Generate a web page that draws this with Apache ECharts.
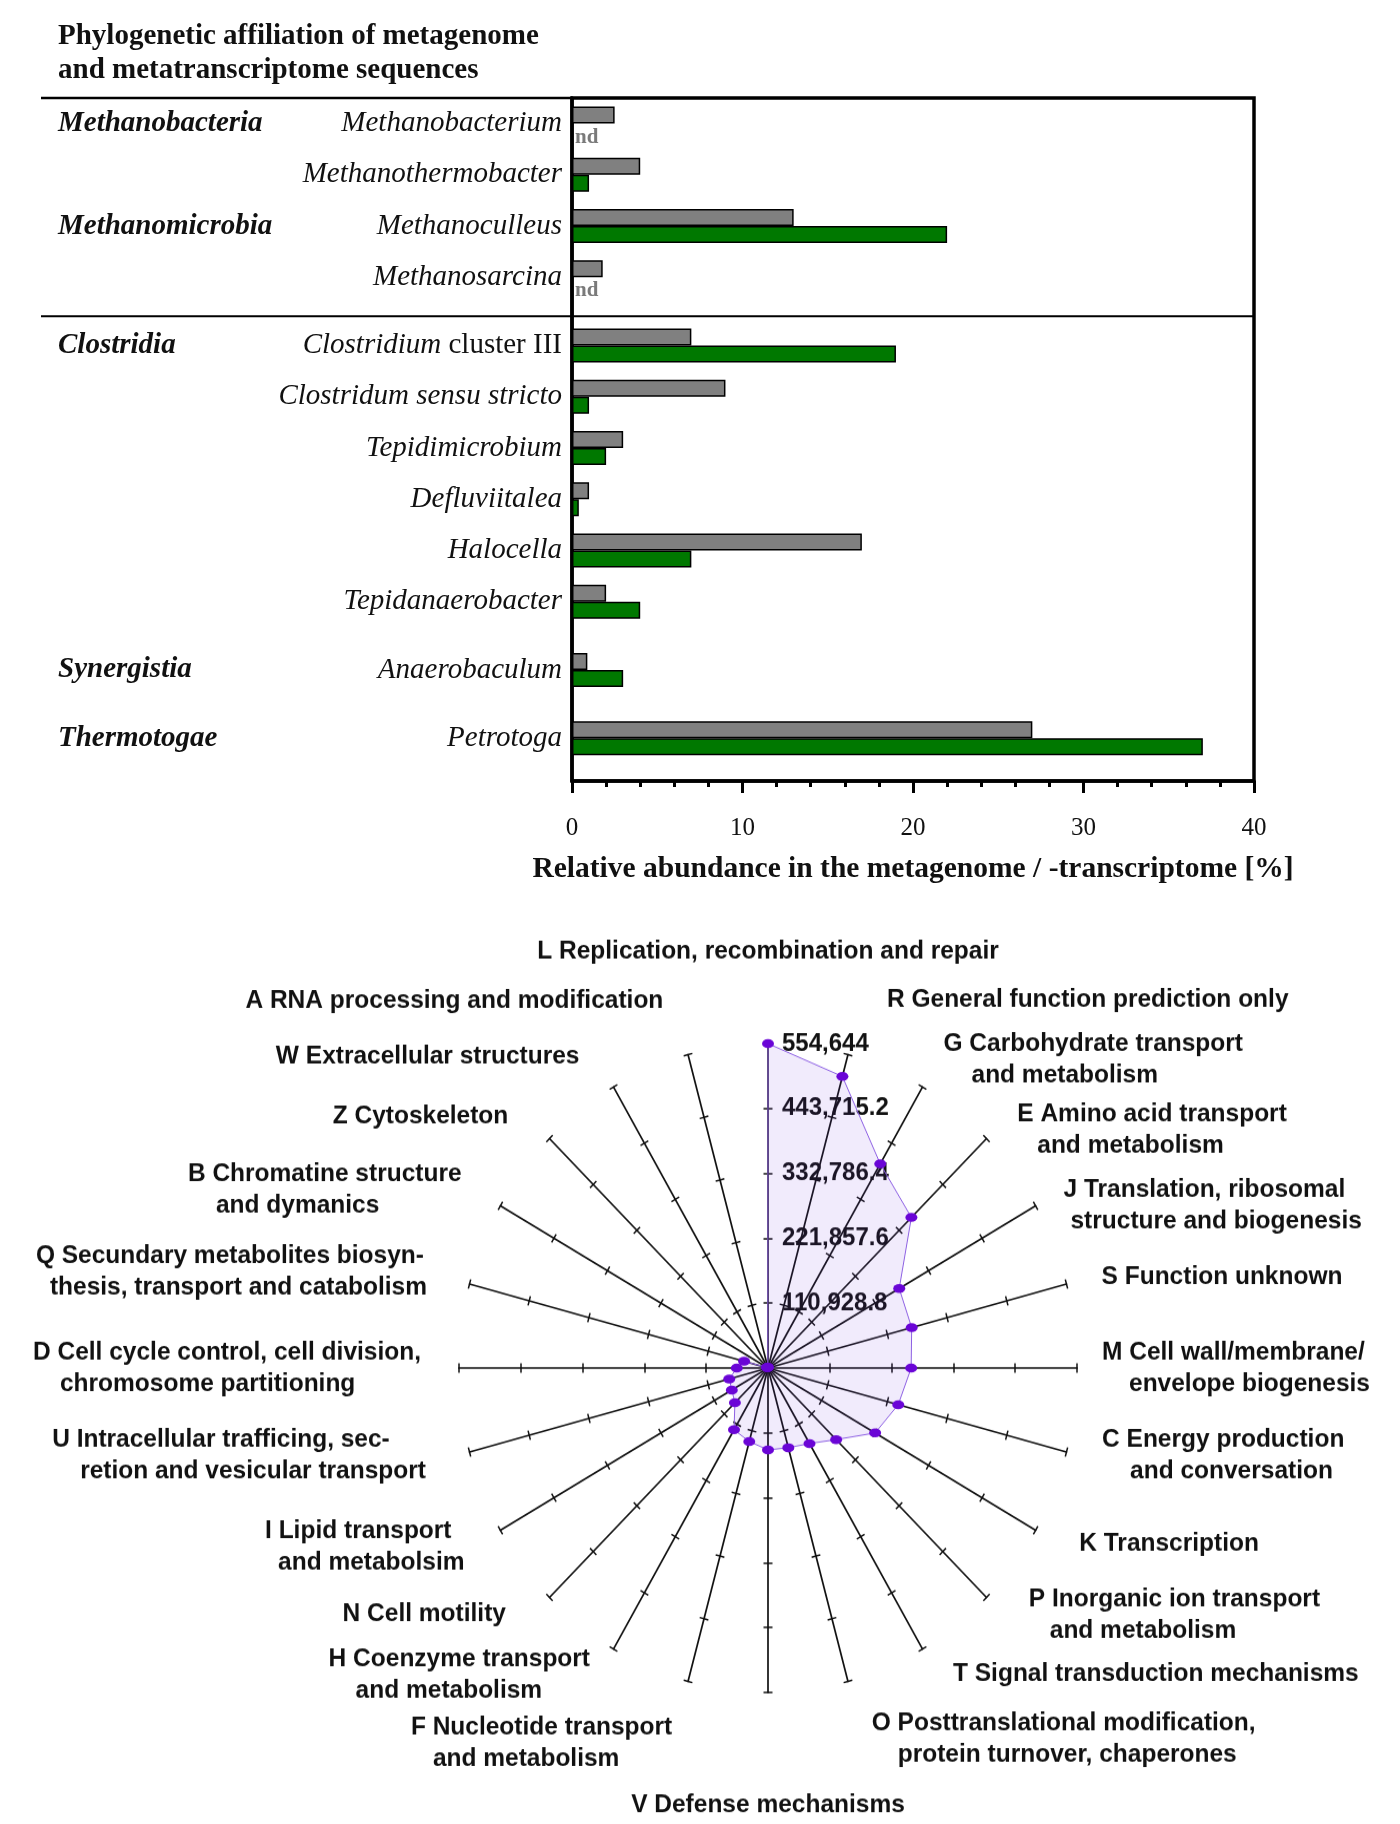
<!DOCTYPE html>
<html>
<head>
<meta charset="utf-8">
<title>Metagenome and metatranscriptome</title>
<script src="https://cdn.jsdelivr.net/npm/echarts@6/dist/echarts.min.js"></script>
<style>
  html, body { margin: 0; padding: 0; background: #fff; }
  body { width: 1400px; height: 1824px; position: relative; overflow: hidden; }
  #bars { position: absolute; left: 0; top: 0; width: 1400px; height: 900px; }
  #cog { position: absolute; left: 0; top: 880px; width: 1400px; height: 944px;
         transform-origin: 768px 488px; transform: scaleY(1.05); }
</style>
</head>
<body>
<div id="bars"></div>
<div id="cog"></div>
<script>
// ---------- Phylogenetic affiliation: relative abundance [%] ----------
const genera = [
  'Methanobacterium', 'Methanothermobacter', 'Methanoculleus', 'Methanosarcina',
  'Clostridium cluster III', 'Clostridum sensu stricto', 'Tepidimicrobium', 'Defluviitalea',
  'Halocella', 'Tepidanaerobacter', 'Anaerobaculum', 'Petrotoga'
];
const classes = [
  'Methanobacteria', '', 'Methanomicrobia', '',
  'Clostridia', '', '', '',
  '', '', 'Synergistia', 'Thermotogae'
];
const metagenome        = [2.5, 4.0, 13.0, 1.8, 7.0, 9.0, 3.0, 1.0, 17.0, 2.0, 0.9, 27.0];
const metatranscriptome = [null, 1.0, 22.0, null, 19.0, 1.0, 2.0, 0.4, 7.0, 4.0, 3.0, 37.0]; // null = not detected

// Category axis rows, top to bottom; empty entries are spacer rows.
const axisRows = [
  '', 'Methanobacterium', '', '', 'Methanothermobacter', '', '', 'Methanoculleus', '', '',
  'Methanosarcina', '', '', '', 'Clostridium cluster III', '', '', 'Clostridum sensu stricto', '', '',
  'Tepidimicrobium', '', '', 'Defluviitalea', '', '', 'Halocella', '', '', 'Tepidanaerobacter',
  '', '', '', 'Anaerobaculum', '', '', '', 'Petrotoga', '', ''
];
const xMin = 0, xMax = 40, xStep = 10;

// ---------- COG functional categories: sequence counts (clockwise from top) ----------
const cogCategories = [
  'L Replication, recombination and repair',
  'R General function prediction only',
  'G Carbohydrate transport\nand metabolism',
  'E Amino acid transport\nand metabolism',
  'J Translation, ribosomal\nstructure and biogenesis',
  'S Function unknown',
  'M Cell wall/membrane/\nenvelope biogenesis',
  'C Energy production\nand conversation',
  'K Transcription',
  'P Inorganic ion transport\nand metabolism',
  'T Signal transduction mechanisms',
  'O Posttranslational modification,\nprotein turnover, chaperones',
  'V Defense mechanisms',
  'F Nucleotide transport\nand metabolism',
  'H Coenzyme transport\nand metabolism',
  'N Cell motility',
  'I Lipid transport\nand metabolsim',
  'U Intracellular trafficing, sec-\nretion and vesicular transport',
  'D Cell cycle control, cell division,\nchromosome partitioning',
  'Q Secundary metabolites biosyn-\nthesis, transport and catabolism',
  'B Chromatine structure\nand dymanics',
  'Z Cytoskeleton',
  'W Extracellular structures',
  'A RNA processing and modification'
];
const cogCounts = [
  554644, 516000, 403000, 364000, 272000, 267000, 257000, 242000, 222000, 173000, 149000, 141000,
  140000, 130000, 122000, 84000, 75000, 72000, 56000, 44500, 2000, 1500, 1000, 1500
];
const cogAxisMax = 554644;
const cogSplits = 5;

// Placement of the category names around the spokes: [gap, left pad, right pad, second-line indent]
const cogNameLayout = [
  [73, 0, 0, 0], [54, 25, 0, 0], [30, 6, 0, 28], [11, 23, 0, 20], [1, 27, 0, 7], [27, 9, 0, 0],
  [25, 0, 0, 27], [12, 24, 0, 28], [25, 22, 0, 0], [23, 26, 0, 21], [27, 17, 0, 0], [57, 9, 0, 26],
  [92, 0, 0, 0], [61, 0, 0, 22], [29, 0, 9, 27], [22, 0, 28, 0], [31, 0, 9, 13], [12, 0, 32, 28],
  [38, 0, 0, 27], [44, 0, 0, 14], [31, 0, 12, 28], [30, 0, 20, 0], [34, 0, 17, 0], [53, 0, 11, 0]
];

const SERIF = '"Liberation Serif", "Times New Roman", Times, serif';
const SANS = '"Liberation Sans", Arial, Helvetica, sans-serif';
const INK = '#111';

// ================= Horizontal bar chart =================
const GRID = { left: 572, top: 98, width: 682, height: 683 };
const slotKeys = axisRows.map((n, i) => n || ('spacer' + i));
const rowOf = key => genera.indexOf(key);

const grayData = slotKeys.map(k => {
  const r = rowOf(k);
  return r < 0 ? null : metagenome[r];
});
const greenData = slotKeys.map(k => {
  const r = rowOf(k);
  if (r < 0) return null;
  const v = metatranscriptome[r];
  if (v === null) {
    return {
      value: 0,
      itemStyle: { borderWidth: 0 },
      label: {
        show: true, position: 'right', distance: 3, offset: [0, 5], formatter: 'nd',
        fontFamily: SERIF, fontWeight: 'bold', fontSize: 21, color: '#7a7a7a'
      }
    };
  }
  return v;
});

function genusLabel(key) {
  const r = rowOf(key);
  if (r < 0) return '';
  const name = genera[r];
  const m = name.match(/^(\S+)( cluster .+)$/);
  return m ? '{it|' + m[1] + '}{rm|' + m[2] + '}' : '{it|' + name + '}';
}

const barChart = echarts.init(document.getElementById('bars'), null, { renderer: 'canvas' });
barChart.setOption({
  animation: false,
  backgroundColor: 'transparent',
  title: {
    text: 'Phylogenetic affiliation of metagenome\nand metatranscriptome sequences',
    left: 58, top: 20, padding: 0,
    textStyle: { fontFamily: SERIF, fontWeight: 'bold', fontSize: 29, lineHeight: 34, color: INK }
  },
  grid: {
    left: GRID.left, top: GRID.top, width: GRID.width, height: GRID.height,
    show: true, borderColor: '#000', borderWidth: 3.5, backgroundColor: 'transparent',
    outerBoundsMode: 'none'
  },
  xAxis: {
    type: 'value', min: xMin, max: xMax, interval: xStep, position: 'bottom',
    axisLine: { show: true, onZero: false, lineStyle: { color: '#000', width: 3.5 } },
    axisTick: { show: true, length: 12, lineStyle: { color: '#000', width: 3 } },
    minorTick: { show: true, splitNumber: 5, length: 6, lineStyle: { color: '#000', width: 3 } },
    axisLabel: { margin: 35, fontFamily: SERIF, fontSize: 25, color: INK },
    splitLine: { show: false },
    name: 'Relative abundance in the metagenome / -transcriptome [%]',
    nameLocation: 'middle', nameGap: 73,
    nameTextStyle: { fontFamily: SERIF, fontWeight: 'bold', fontSize: 29.5, color: INK }
  },
  yAxis: [
    {
      type: 'category', data: slotKeys, inverse: true, position: 'left', offset: 0,
      axisLine: { show: true, lineStyle: { color: '#000', width: 3.5 } },
      axisTick: { show: false },
      splitLine: { show: false },
      axisLabel: {
        interval: 0, margin: 10, formatter: genusLabel,
        rich: {
          it: { fontFamily: SERIF, fontStyle: 'italic', fontSize: 29, color: INK },
          rm: { fontFamily: SERIF, fontSize: 29, color: INK }
        }
      }
    },
    {
      type: 'category', data: slotKeys, inverse: true, position: 'left', offset: 0,
      axisLine: { show: false }, axisTick: { show: false }, splitLine: { show: false },
      axisLabel: {
        interval: 0, margin: GRID.left - 58, align: 'left',
        fontFamily: SERIF, fontStyle: 'italic', fontWeight: 'bold', fontSize: 29, color: INK,
        formatter: key => { const r = rowOf(key); return r < 0 ? '' : classes[r]; }
      }
    }
  ],
  series: [
    {
      type: 'bar', name: 'Metagenome', yAxisIndex: 0, data: grayData,
      barWidth: 17, barGap: '0%',
      itemStyle: { color: '#808080', borderColor: '#000', borderWidth: 1.5 }
    },
    {
      type: 'bar', name: 'Metatranscriptome', yAxisIndex: 0, data: greenData,
      barWidth: 17, barGap: '0%',
      itemStyle: { color: '#007800', borderColor: '#000', borderWidth: 1.5 }
    }
  ]
});

// Rule lines that run from the label column into the plot
const yArchaeaEnd = barChart.convertToPixel({ yAxisIndex: 0 }, 'Methanosarcina');
const yBacteriaStart = barChart.convertToPixel({ yAxisIndex: 0 }, 'Clostridium cluster III');
const sepY = yArchaeaEnd + (yBacteriaStart - yArchaeaEnd) * 0.57;
const xEnd = barChart.convertToPixel({ xAxisIndex: 0 }, xMax);
barChart.setOption({
  graphic: [
    { type: 'line', shape: { x1: 41, y1: GRID.top, x2: GRID.left, y2: GRID.top },
      style: { stroke: '#000', lineWidth: 2.5 }, z: 10 },
    { type: 'line', shape: { x1: 41, y1: sepY, x2: xEnd, y2: sepY },
      style: { stroke: '#000', lineWidth: 2 }, z: 10 }
  ]
});

// ================= COG radar =================
// ECharts lays indicators out counter-clockwise from the top: keep L first, reverse the rest.
const ccw = [0].concat(cogCategories.map((_, i) => i).slice(1).reverse());

const NAME_FONT = { fontFamily: SANS, fontWeight: 'bold', fontSize: 24.5, lineHeight: 30, color: INK, align: 'left' };
const nameRich = { t: Object.assign({}, NAME_FONT) };
cogNameLayout.forEach(l => {
  nameRich['i' + l[3]] = Object.assign({}, NAME_FONT, { padding: [0, 0, 0, l[3]] });
});

function makeIndicators(withLayout) {
  return ccw.map(k => {
    const ind = { name: cogCategories[k], min: 0, max: cogAxisMax };
    if (withLayout) {
      const l = cogNameLayout[k];
      ind.nameGap = l[0];
      ind.nameTextStyle = { padding: [0, l[2], 0, l[1]] };
      if (k === 0) ind.axisLabel = { show: true, margin: -14, align: 'left' };
    }
    return ind;
  });
}

const radarBase = {
  center: [768, 488], radius: 309, startAngle: 90, splitNumber: cogSplits, shape: 'polygon',
  splitLine: { show: false }, splitArea: { show: false }
};

const cogChart = echarts.init(document.getElementById('cog'), null, { renderer: 'canvas' });
cogChart.setOption({
  animation: false,
  backgroundColor: 'transparent',
  radar: [
    Object.assign({}, radarBase, {
      indicator: makeIndicators(true),
      axisName: {
        show: true, color: INK, fontFamily: SANS, fontWeight: 'bold', fontSize: 24.5,
        formatter: name => {
          const k = cogCategories.indexOf(name);
          const indent = cogNameLayout[k][3];
          return name.split('\n')
            .map((line, i) => (i === 0 ? '{t|' : '{i' + indent + '|') + line + '}')
            .join('\n');
        },
        rich: nameRich
      },
      axisLine: { show: true, lineStyle: { color: INK, width: 1.7 } },
      axisTick: { show: true, length: 4.5, lineStyle: { color: INK, width: 1.5 } },
      axisLabel: {
        show: false, showMinLabel: false, margin: 14,
        fontFamily: SANS, fontWeight: 'bold', fontSize: 24, color: INK
      }
    }),
    Object.assign({}, radarBase, {
      indicator: makeIndicators(false),
      axisName: { show: false },
      axisLine: { show: false },
      axisTick: { show: true, length: -4.5, lineStyle: { color: INK, width: 1.5 } },
      axisLabel: { show: false }
    })
  ],
  series: [{
    type: 'radar', radarIndex: 0,
    symbol: 'circle', symbolSize: [12, 8.5],
    itemStyle: { color: '#6a05d6' },
    lineStyle: { color: '#8f63e3', width: 1 },
    areaStyle: { color: 'rgba(112, 52, 222, 0.14)' },
    data: [{ name: 'Sequences', value: ccw.map(k => cogCounts[k]) }]
  }]
});
</script>
</body>
</html>
